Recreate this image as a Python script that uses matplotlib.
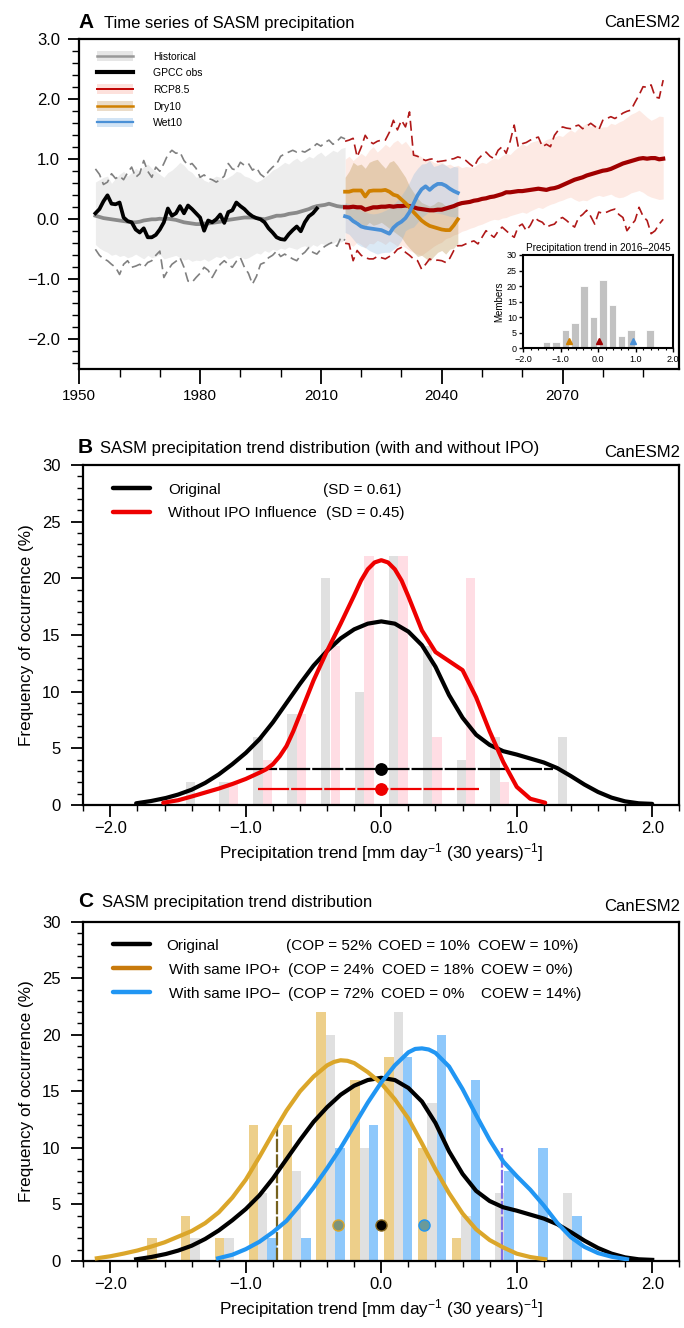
import numpy as np
import matplotlib
matplotlib.use('Agg')
import matplotlib.pyplot as plt
from matplotlib.patches import Rectangle
from matplotlib.ticker import MultipleLocator, FuncFormatter

plt.rcParams['font.family'] = ['Liberation Sans', 'DejaVu Sans']
plt.rcParams['mathtext.default'] = 'regular'

# ---------------- panel A : time series ----------------
hist_years = np.arange(1954, 2017)
hist_mean = [0.06, 0.04, 0.02, 0.01, 0.00, -0.01, -0.02, -0.03, -0.04, -0.05,
             -0.05, -0.04, -0.02, -0.01, 0.00, 0.00, 0.01, 0.00, 0.01, 0.00,
             -0.01, -0.03, -0.05, -0.06, -0.07, -0.08, -0.08, -0.07, -0.07, -0.06,
             -0.05, -0.04, -0.02, -0.01, 0.00, 0.01, 0.02, 0.03, 0.03, 0.03,
             0.02, 0.01, 0.00, 0.02, 0.04, 0.06, 0.06, 0.07, 0.09, 0.10,
             0.11, 0.13, 0.15, 0.17, 0.20, 0.22, 0.23, 0.24, 0.26, 0.24,
             0.22, 0.21, 0.21]
hist_hi = [0.62, 0.66, 0.70, 0.72, 0.60, 0.68, 0.75, 0.80, 0.72, 0.78,
           0.85, 0.80, 0.88, 0.92, 0.85, 0.80, 0.75, 0.70, 0.78, 0.82,
           0.88, 0.95, 0.90, 0.82, 0.78, 0.70, 0.72, 0.65, 0.62, 0.68,
           0.72, 0.70, 0.66, 0.70, 0.74, 0.80, 0.78, 0.72, 0.70, 0.66,
           0.62, 0.65, 0.70, 0.75, 0.82, 0.85, 0.90, 0.95, 0.92, 0.98,
           1.02, 0.96, 1.00, 1.05, 1.02, 1.08, 1.12, 1.05, 1.10, 1.15,
           1.12, 1.18, 1.20]
hist_lo = [-0.42, -0.48, -0.52, -0.55, -0.60, -0.58, -0.62, -0.60, -0.64, -0.62,
           -0.58, -0.62, -0.66, -0.60, -0.64, -0.62, -0.58, -0.66, -0.64, -0.62,
           -0.60, -0.64, -0.68, -0.66, -0.70, -0.68, -0.69, -0.66, -0.70, -0.66,
           -0.62, -0.64, -0.60, -0.66, -0.64, -0.60, -0.62, -0.66, -0.64, -0.60,
           -0.56, -0.58, -0.52, -0.55, -0.50, -0.52, -0.48, -0.50, -0.46, -0.48,
           -0.50, -0.46, -0.44, -0.48, -0.42, -0.45, -0.40, -0.42, -0.38, -0.40,
           -0.36, -0.38, -0.34]
hist_max = [0.84, 0.75, 0.58, 0.62, 0.76, 0.68, 0.72, 0.66, 0.78, 0.87,
            0.70, 0.76, 0.98, 0.80, 0.70, 0.87, 0.80, 0.93, 1.08, 1.15,
            1.10, 1.12, 0.98, 0.90, 0.93, 0.85, 0.70, 0.74, 0.68, 0.66,
            0.62, 0.66, 0.72, 0.93, 0.84, 0.82, 0.95, 0.90, 0.93, 0.82,
            0.86, 0.75, 0.70, 0.80, 0.87, 0.92, 1.05, 1.09, 1.12, 1.15,
            1.12, 1.14, 1.12, 1.16, 1.20, 1.26, 1.22, 1.28, 1.32, 1.25,
            1.30, 1.37, 1.34]
hist_min = [-0.50, -0.60, -0.66, -0.69, -0.75, -0.80, -0.92, -0.75, -0.69, -0.80,
            -0.78, -0.75, -0.80, -0.72, -0.69, -0.60, -0.53, -0.97, -0.85, -0.75,
            -0.70, -0.64, -0.80, -1.03, -1.05, -0.97, -0.90, -0.80, -0.85, -0.97,
            -0.85, -0.75, -0.69, -0.75, -0.80, -0.70, -0.64, -0.80, -0.90, -1.08,
            -0.95, -0.75, -0.72, -0.64, -0.60, -0.53, -0.62, -0.58, -0.62, -0.66,
            -0.69, -0.60, -0.55, -0.47, -0.55, -0.58, -0.50, -0.45, -0.41, -0.38,
            -0.45, -0.30, -0.35]

obs_years = np.arange(1954, 2010)
obs = [0.10, 0.17, 0.30, 0.40, 0.26, 0.25, 0.28, 0.03, -0.03, -0.05,
       -0.17, -0.22, -0.15, -0.30, -0.30, -0.26, -0.17, -0.05, 0.18, 0.06,
       0.10, 0.22, 0.10, 0.23, 0.17, 0.10, 0.03, -0.19, -0.02, -0.05,
       0.00, 0.08, -0.06, 0.12, 0.15, 0.28, 0.22, 0.17, 0.10, 0.05,
       0.02, 0.00, -0.05, -0.15, -0.22, -0.30, -0.33, -0.34, -0.25, -0.18,
       -0.12, -0.20, -0.05, 0.05, 0.10, 0.18]

rcp_years = np.arange(2016, 2096)
rcp_mean = [0.20, 0.20, 0.21, 0.20, 0.20, 0.16, 0.18, 0.20, 0.20, 0.21,
            0.21, 0.22, 0.21, 0.22, 0.22, 0.23, 0.22, 0.20, 0.18, 0.17,
            0.16, 0.15, 0.15, 0.16, 0.16, 0.18, 0.20, 0.22, 0.25, 0.27,
            0.28, 0.29, 0.31, 0.32, 0.34, 0.35, 0.37, 0.38, 0.40, 0.42,
            0.45, 0.45, 0.46, 0.47, 0.47, 0.48, 0.49, 0.50, 0.51, 0.50,
            0.49, 0.51, 0.52, 0.54, 0.57, 0.60, 0.63, 0.66, 0.68, 0.70,
            0.73, 0.75, 0.77, 0.79, 0.81, 0.82, 0.84, 0.87, 0.90, 0.93,
            0.95, 0.97, 0.99, 1.01, 1.02, 1.01, 1.02, 1.02, 1.00, 1.01]
rcp_hi = [1.00, 1.05, 0.98, 1.04, 1.10, 1.05, 1.15, 1.21, 1.12, 1.18,
          1.25, 1.20, 1.28, 1.32, 1.25, 1.30, 1.21, 1.12, 1.08, 1.04,
          0.98, 1.00, 0.95, 0.93, 0.96, 0.90, 0.92, 0.88, 0.90, 0.86,
          0.88, 0.87, 0.87, 0.92, 0.95, 0.93, 0.98, 1.02, 1.00, 1.06,
          1.10, 1.08, 1.15, 1.20, 1.26, 1.22, 1.28, 1.30, 1.32, 1.28,
          1.33, 1.35, 1.37, 1.40, 1.38, 1.44, 1.49, 1.45, 1.52, 1.56,
          1.60, 1.55, 1.58, 1.52, 1.54, 1.54, 1.60, 1.58, 1.62, 1.65,
          1.70, 1.75, 1.78, 1.82, 1.76, 1.70, 1.65, 1.68, 1.72, 1.71]
rcp_lo = [-0.40, -0.41, -0.45, -0.38, -0.42, -0.48, -0.40, -0.41, -0.35, -0.38,
          -0.42, -0.36, -0.40, -0.45, -0.43, -0.47, -0.52, -0.55, -0.58, -0.60,
          -0.55, -0.50, -0.45, -0.41, -0.38, -0.32, -0.30, -0.26, -0.24, -0.20,
          -0.18, -0.15, -0.13, -0.10, -0.08, -0.05, -0.02, 0.00, -0.01, 0.02,
          0.03, 0.06, 0.08, 0.10, 0.12, 0.10, 0.14, 0.17, 0.20, 0.18,
          0.22, 0.25, 0.27, 0.30, 0.32, 0.35, 0.37, 0.33, 0.30, 0.32,
          0.31, 0.35, 0.38, 0.40, 0.38, 0.40, 0.42, 0.38, 0.36, 0.37,
          0.40, 0.44, 0.46, 0.48, 0.45, 0.40, 0.37, 0.35, 0.33, 0.34]
rcp_max = [1.30, 1.32, 1.35, 1.04, 1.20, 1.40, 1.30, 1.26, 1.30, 1.32,
           1.32, 1.45, 1.65, 1.49, 1.65, 1.54, 1.79, 1.07, 1.05, 1.01,
           0.98, 1.00, 1.01, 0.96, 0.97, 0.98, 1.00, 1.01, 1.04, 1.02,
           0.98, 0.92, 0.87, 1.00, 1.07, 1.12, 1.05, 1.01, 1.15, 1.21,
           1.10, 1.30, 1.57, 1.21, 1.26, 1.28, 1.32, 1.35, 1.37, 1.21,
           1.25, 1.21, 1.40, 1.49, 1.54, 1.52, 1.51, 1.55, 1.57, 1.51,
           1.55, 1.60, 1.55, 1.49, 1.65, 1.68, 1.71, 1.68, 1.72, 1.77,
           1.80, 1.82, 1.95, 2.07, 2.21, 2.20, 2.24, 2.04, 2.02, 2.32]
rcp_min = [-0.40, -0.41, -0.69, -0.52, -0.60, -0.64, -0.66, -0.66, -0.62, -0.64,
           -0.66, -0.62, -0.58, -0.50, -0.47, -0.55, -0.60, -0.66, -0.69, -0.83,
           -0.75, -0.66, -0.69, -0.68, -0.69, -0.72, -0.65, -0.52, -0.44, -0.44,
           -0.41, -0.38, -0.36, -0.41, -0.30, -0.19, -0.25, -0.30, -0.20, -0.13,
           -0.19, -0.25, -0.30, -0.12, -0.08, -0.19, -0.10, 0.03, -0.02, -0.05,
           -0.13, -0.10, -0.08, 0.00, 0.03, -0.02, -0.08, -0.13, 0.03, 0.08,
           0.15, 0.05, -0.08, 0.12, 0.10, 0.12, 0.15, 0.17, 0.08, 0.03,
           -0.19, -0.10, -0.02, 0.20, 0.05, -0.02, -0.24, -0.19, -0.08, 0.00]

fut_years = np.arange(2016, 2045)
dry_mean = [0.46, 0.46, 0.48, 0.48, 0.48, 0.38, 0.47, 0.48, 0.48, 0.48,
            0.49, 0.46, 0.41, 0.39, 0.33, 0.27, 0.20, 0.12, 0.05, -0.02,
            -0.07, -0.11, -0.13, -0.15, -0.17, -0.18, -0.18, -0.10, 0.00]
dry_hi = [0.70, 0.80, 0.95, 0.90, 0.92, 0.85, 0.95, 0.98, 1.00, 0.92,
          0.85, 0.95, 0.98, 0.90, 0.80, 0.70, 0.55, 0.45, 0.35, 0.28,
          0.25, 0.22, 0.25, 0.30, 0.28, 0.22, 0.20, 0.22, 0.25]
dry_lo = [0.05, 0.00, -0.05, -0.02, -0.08, -0.12, -0.05, -0.10, -0.08, -0.05,
          -0.10, -0.15, -0.20, -0.25, -0.30, -0.40, -0.48, -0.55, -0.62, -0.60,
          -0.65, -0.70, -0.62, -0.55, -0.52, -0.58, -0.50, -0.48, -0.40]
wet_mean = [0.05, 0.03, -0.03, -0.07, -0.12, -0.14, -0.15, -0.16, -0.17, -0.18,
            -0.21, -0.24, -0.14, -0.08, -0.04, 0.02, 0.12, 0.26, 0.40, 0.50,
            0.55, 0.49, 0.55, 0.59, 0.59, 0.56, 0.51, 0.47, 0.44]
wet_hi = [0.28, 0.26, 0.22, 0.18, 0.15, 0.12, 0.10, 0.09, 0.10, 0.12,
          0.15, 0.18, 0.25, 0.32, 0.40, 0.50, 0.62, 0.76, 0.85, 0.92,
          0.93, 0.98, 0.88, 0.90, 0.93, 0.90, 0.85, 0.88, 0.87]
wet_lo = [-0.22, -0.25, -0.33, -0.41, -0.45, -0.47, -0.52, -0.55, -0.58, -0.56,
          -0.55, -0.55, -0.50, -0.45, -0.35, -0.19, -0.15, -0.13, -0.05, 0.03,
          0.08, 0.15, 0.12, 0.10, 0.09, 0.07, 0.05, 0.04, 0.03]

legend_a_labels = ['Historical', 'GPCC obs', 'RCP8.5', 'Dry10', 'Wet10']

# ---------------- trend distributions (B, C, inset) ----------------
bin_centers = np.array([-1.625, -1.375, -1.125, -0.875, -0.625, -0.375, -0.125,
                        0.125, 0.375, 0.625, 0.875, 1.125, 1.375])
orig_pct = [0, 2, 2, 6, 8, 20, 10, 22, 14, 4, 6, 0, 6]
noipo_pct = [0, 0, 2, 4, 8, 14, 22, 22, 6, 20, 2, 0, 0]
ipo_pos_pct = [2, 4, 2, 12, 12, 22, 16, 18, 10, 2, 0, 0, 0]
ipo_neg_pct = [0, 0, 0, 2, 2, 10, 12, 18, 20, 16, 8, 10, 4]
members = [0, 2, 2, 6, 8, 20, 10, 22, 14, 4, 6, 0, 6]
inset_marks = [-0.78, 0.02, 0.92]

# density curves (trend, %)
orig_x = [-1.81, -1.70, -1.59, -1.50, -1.40, -1.30, -1.20, -1.10, -1.00, -0.90,
          -0.80, -0.70, -0.60, -0.50, -0.40, -0.30, -0.20, -0.10, 0.00, 0.10,
          0.20, 0.30, 0.40, 0.50, 0.60, 0.70, 0.80, 0.90, 1.00, 1.10,
          1.20, 1.30, 1.40, 1.50, 1.60, 1.70, 1.80, 1.90, 2.00]
orig_y = [0.15, 0.35, 0.62, 0.92, 1.35, 1.95, 2.70, 3.60, 4.60, 5.80,
          7.30, 9.00, 10.7, 12.3, 13.6, 14.7, 15.5, 16.0, 16.2, 16.0,
          15.3, 14.1, 12.2, 9.70, 7.70, 6.20, 5.30, 4.75, 4.45, 4.10,
          3.75, 3.25, 2.55, 1.80, 1.15, 0.65, 0.32, 0.15, 0.10]
noipo_x = [-1.61, -1.50, -1.40, -1.30, -1.20, -1.10, -1.00, -0.90, -0.85, -0.80,
           -0.75, -0.70, -0.65, -0.60, -0.50, -0.40, -0.30, -0.20, -0.15, -0.10,
           -0.05, 0.00, 0.05, 0.10, 0.15, 0.20, 0.30, 0.40, 0.50, 0.60,
           0.70, 0.80, 0.90, 1.00, 1.10, 1.21]
noipo_y = [0.20, 0.42, 0.75, 1.10, 1.45, 1.85, 2.30, 2.85, 3.15, 3.60,
           4.30, 5.20, 6.50, 8.00, 11.0, 13.6, 16.0, 18.5, 19.8, 20.8,
           21.4, 21.6, 21.4, 20.8, 19.8, 18.4, 15.4, 13.5, 12.7, 11.9,
           9.50, 6.50, 3.80, 1.60, 0.55, 0.20]
pos_x = [-2.10, -2.00, -1.90, -1.80, -1.70, -1.60, -1.50, -1.40, -1.30, -1.20,
         -1.10, -1.00, -0.90, -0.80, -0.70, -0.60, -0.50, -0.40, -0.35, -0.30,
         -0.25, -0.20, -0.10, 0.00, 0.10, 0.20, 0.30, 0.40, 0.50, 0.60,
         0.70, 0.80, 0.90, 1.00, 1.10, 1.21]
pos_y = [0.24, 0.42, 0.66, 0.93, 1.27, 1.65, 2.15, 2.65, 3.35, 4.30,
         5.60, 7.20, 9.20, 11.3, 13.3, 15.0, 16.3, 17.3, 17.6, 17.75,
         17.7, 17.5, 16.7, 15.7, 14.3, 12.6, 10.4, 8.10, 6.00, 4.20,
         2.80, 1.85, 1.20, 0.65, 0.35, 0.15]
neg_x = [-1.205, -1.10, -1.00, -0.90, -0.80, -0.70, -0.60, -0.50, -0.40, -0.30,
         -0.20, -0.10, 0.00, 0.10, 0.20, 0.25, 0.30, 0.35, 0.40, 0.50,
         0.60, 0.70, 0.80, 0.90, 1.00, 1.10, 1.20, 1.30, 1.40, 1.50,
         1.60, 1.70, 1.814]
neg_y = [0.24, 0.55, 1.05, 1.70, 2.55, 3.55, 4.95, 6.50, 8.20, 10.0,
         12.0, 14.0, 15.8, 17.3, 18.45, 18.75, 18.8, 18.7, 18.4, 17.2,
         15.2, 12.9, 10.7, 8.80, 7.50, 6.30, 4.90, 3.35, 2.10, 1.25,
         0.70, 0.38, 0.15]

orig_range = [-1.0, 1.27]
noipo_range = [-0.91, 0.72]
pos_line_x, pos_line_h = -0.773, 12
neg_line_x, neg_line_h = 0.894, 10
mean_dots = [-0.32, 0.0, 0.316]

# ---------------- figure ----------------
W, H = 684, 1328
fig = plt.figure(figsize=(W / 100, H / 100), dpi=100)


def box(x0, y0, x1, y1):
    return [x0 / W, 1 - y1 / H, (x1 - x0) / W, (y1 - y0) / H]


def style(ax, maj=8.4, mnr=4.3):
    for s in ax.spines.values():
        s.set_linewidth(1.6)
    ax.tick_params(which='major', direction='out', length=maj, width=1.3,
                   top=False, right=False)
    ax.tick_params(which='minor', direction='out', length=mnr, width=1.0,
                   top=False, right=False)


fmt1 = FuncFormatter(lambda v, p: f'{v:.1f}'.replace('-', '\u2212'))

axA = fig.add_axes(box(79.3, 39.3, 679.3, 369.3))
axB = fig.add_axes(box(83.3, 465, 679.3, 805))
axC = fig.add_axes(box(83.3, 921.7, 679.3, 1261))
axI = fig.add_axes(box(523.3, 255, 673.3, 348.3))

# ---- A
axA.fill_between(rcp_years, rcp_lo, rcp_hi, color='#fdeae4', lw=0, zorder=1)
axA.fill_between(hist_years, hist_lo, hist_hi, color='#ededed', lw=0, zorder=1)
axA.fill_between(fut_years, dry_lo, dry_hi, color='#b58a40', alpha=0.32, lw=0, zorder=2)
axA.fill_between(fut_years, wet_lo, wet_hi, color='#7fb2dd', alpha=0.28, lw=0, zorder=2)
axA.plot(hist_years, hist_max, color='#808080', lw=1.2, dashes=(6, 3), zorder=3)
axA.plot(hist_years, hist_min, color='#808080', lw=1.2, dashes=(6, 3), zorder=3)
axA.plot(rcp_years, rcp_max, color='#b01818', lw=1.2, dashes=(6, 3), zorder=3)
axA.plot(rcp_years, rcp_min, color='#b01818', lw=1.2, dashes=(6, 3), zorder=3)
axA.plot(hist_years, hist_mean, color='#8a8a8a', lw=2.7, zorder=4)
axA.plot(obs_years, obs, color='black', lw=2.7, zorder=5)
axA.plot(rcp_years, rcp_mean, color='#a00000', lw=3.0, zorder=6)
axA.plot(fut_years, dry_mean, color='#d08000', lw=2.7, zorder=6)
axA.plot(fut_years, wet_mean, color='#4a90d6', lw=2.7, zorder=6)

axA.set_xlim(1950, 2099)
axA.set_ylim(-2.5, 3.0)
axA.xaxis.set_major_locator(MultipleLocator(30))
axA.xaxis.set_minor_locator(MultipleLocator(10))
axA.yaxis.set_major_locator(MultipleLocator(1.0))
axA.yaxis.set_minor_locator(MultipleLocator(0.2))
axA.yaxis.set_major_formatter(fmt1)
style(axA, maj=11, mnr=6)
axA.tick_params(axis='y', which='major', length=8, labelsize=12, pad=6)
axA.tick_params(axis='y', which='minor', length=5)
axA.tick_params(axis='x', which='major', labelsize=11, pad=3)

a_band = ['#e6e6e6', None, '#fde1dc', '#ebdcc8', '#d2e4f5']
a_line = ['#999999', 'black', '#c00000', '#d08000', '#4a90d6']
a_lw = [1.8, 3.0, 1.4, 1.8, 1.6]
a_rows = [0.950, 0.900, 0.849, 0.799, 0.748]
for lab, bc, lc, lw, yy in zip(legend_a_labels, a_band, a_line, a_lw, a_rows):
    if bc:
        axA.add_patch(Rectangle((0.029, yy - 0.015), 0.061, 0.030,
                                transform=axA.transAxes, color=bc, lw=0, zorder=7))
    axA.plot([0.029, 0.090], [yy, yy], transform=axA.transAxes, color=lc, lw=lw, zorder=8)
    axA.text(0.1223, yy, lab, transform=axA.transAxes, fontsize=7.5,
             va='center_baseline', zorder=8)

# ---- inset
axI.bar(bin_centers, members, width=0.2, color='#c2c2c2', edgecolor='white', lw=0.6)
for xm, cm in zip(inset_marks, ['#d08000', '#a00000', '#4a90d6']):
    axI.plot(xm, 2.5, marker='^', ms=5, color=cm, mec=cm)
axI.set_xlim(-2.0, 2.0)
axI.set_ylim(0, 30)
axI.xaxis.set_major_locator(MultipleLocator(1.0))
axI.xaxis.set_minor_locator(MultipleLocator(0.2))
axI.yaxis.set_major_locator(MultipleLocator(5))
axI.xaxis.set_major_formatter(fmt1)
for s in axI.spines.values():
    s.set_linewidth(1.5)
axI.tick_params(which='major', direction='out', length=3, width=1.0, labelsize=6.5, pad=1.5)
axI.tick_params(which='minor', direction='out', length=1.5, width=0.8)
axI.set_ylabel('Members', fontsize=7, labelpad=2)
axI.set_title('Precipitation trend in 2016\u20132045', fontsize=7.2, pad=3)

# ---- B
axB.bar(bin_centers - 0.035, orig_pct, width=0.069, color='#e0e0e0', lw=0, zorder=1)
axB.bar(bin_centers + 0.035, noipo_pct, width=0.069, color='#ffdde4', lw=0, zorder=1)
axB.plot(orig_range, [3.2, 3.2], color='black', lw=1.6, dashes=(14, 0.9), zorder=2)
axB.plot(noipo_range, [1.45, 1.45], color='#ee0000', lw=1.6, dashes=(14, 0.9), zorder=2)
axB.plot(orig_x, orig_y, color='black', lw=3.0, zorder=3, solid_capstyle='round')
axB.plot(noipo_x, noipo_y, color='#ee0000', lw=3.0, zorder=3, solid_capstyle='round')
axB.plot(0.0, 3.2, 'o', color='black', ms=8.2, zorder=4)
axB.plot(0.0, 1.45, 'o', color='#ee0000', ms=8.2, zorder=4)

b_rows = [(0.932, 'black', 'Original', '(SD = 0.61)', 0.4025),
          (0.862, '#ee0000', 'Without IPO Influence', '(SD = 0.45)', 0.4077)]
for yy, col, lab, sd, sx in b_rows:
    axB.plot([0.050, 0.112], [yy, yy], transform=axB.transAxes, color=col, lw=3.2,
             solid_capstyle='round')
    axB.text(0.142, yy, lab, transform=axB.transAxes, fontsize=11, va='center_baseline')
    axB.text(sx, yy, sd, transform=axB.transAxes, fontsize=11, va='center_baseline')

# ---- C
axC.bar(bin_centers - 0.069, ipo_pos_pct, width=0.069, color='#edcf8a', lw=0, zorder=1)
axC.bar(bin_centers, orig_pct, width=0.069, color='#e0e0e0', lw=0, zorder=1)
axC.bar(bin_centers + 0.069, ipo_neg_pct, width=0.069, color='#8ec8fb', lw=0, zorder=1)
axC.plot([pos_line_x, pos_line_x], [0, pos_line_h], color='#76621e', lw=1.6,
         dashes=(6, 1), zorder=2)
axC.plot([neg_line_x, neg_line_x], [0, neg_line_h], color='#8070e8', lw=1.6,
         dashes=(6, 1), zorder=2)
axC.plot(orig_x, orig_y, color='black', lw=3.0, zorder=3)
axC.plot(pos_x, pos_y, color='#dba62a', lw=3.0, zorder=3)
axC.plot(neg_x, neg_y, color='#2196f3', lw=3.0, zorder=3)
axC.plot(mean_dots[0], 3.15, 'o', ms=8, mfc='#7d9378', mec='#dba62a', mew=1.0, zorder=4)
axC.plot(mean_dots[1], 3.15, 'o', ms=8, mfc='black', mec='#8a6a20', mew=1.0, zorder=4)
axC.plot(mean_dots[2], 3.15, 'o', ms=8, mfc='#6a9a9a', mec='#2196f3', mew=1.0, zorder=4)

c_rows = [0.933, 0.863, 0.792]
c_colors = ['black', '#c87a0c', '#2196f3']
c_names = ['Original', 'With same IPO+', 'With same IPO\u2212']
c_cop = ['(COP = 52%', '(COP = 24%', '(COP = 72%']
c_coed = ['COED = 10%', 'COED = 18%', 'COED = 0%']
c_coew = ['COEW = 10%)', 'COEW = 0%)', 'COEW = 14%)']
c_name_x = [0.140, 0.144, 0.144]
c_cop_x = [0.340, 0.344, 0.344]
c_coed_x = [0.494, 0.501, 0.500]
c_coew_x = [0.662, 0.668, 0.668]
for i, yy in enumerate(c_rows):
    axC.plot([0.050, 0.112], [yy, yy], transform=axC.transAxes, color=c_colors[i], lw=3.2,
             solid_capstyle='round')
    axC.text(c_name_x[i], yy, c_names[i], transform=axC.transAxes, fontsize=11,
             va='center_baseline')
    axC.text(c_cop_x[i], yy, c_cop[i], transform=axC.transAxes, fontsize=11,
             va='center_baseline')
    axC.text(c_coed_x[i], yy, c_coed[i], transform=axC.transAxes, fontsize=11,
             va='center_baseline')
    axC.text(c_coew_x[i], yy, c_coew[i], transform=axC.transAxes, fontsize=11,
             va='center_baseline')

for ax in (axB, axC):
    ax.set_xlim(-2.2, 2.2)
    ax.set_ylim(0, 30)
    ax.xaxis.set_major_locator(MultipleLocator(1.0))
    ax.xaxis.set_minor_locator(MultipleLocator(0.2))
    ax.xaxis.set_major_formatter(fmt1)
    ax.yaxis.set_major_locator(MultipleLocator(5))
    ax.yaxis.set_minor_locator(MultipleLocator(1))
    style(ax)
    ax.tick_params(which='major', labelsize=12)
    ax.tick_params(axis='y', which='major', pad=8)
    ax.tick_params(axis='x', which='major', pad=3)
    ax.set_xlabel('Precipitation trend [mm day$^{-1}$ (30 years)$^{-1}$]', fontsize=12.3,
                  labelpad=4)
    ax.set_ylabel('Frequency of occurrence (%)', fontsize=12.3, labelpad=6)

# ---- panel titles
titles = [('A', 'Time series of SASM precipitation', 28.3, 104, 27.0),
          ('B', 'SASM precipitation trend distribution (with and without IPO)', 452.7, 100, 456.7),
          ('C', 'SASM precipitation trend distribution', 907.3, 101.7, 910.7)]
for letter, txt, yb, xt, yc in titles:
    fig.text(78 / W, 1 - yb / H, letter, fontsize=15, fontweight='bold', va='baseline')
    fig.text(xt / W, 1 - yb / H, txt, fontsize=12, va='baseline')
    fig.text(680 / W, 1 - yc / H, 'CanESM2', fontsize=12, ha='right', va='baseline')

fig.savefig('out.png', dpi=100)
